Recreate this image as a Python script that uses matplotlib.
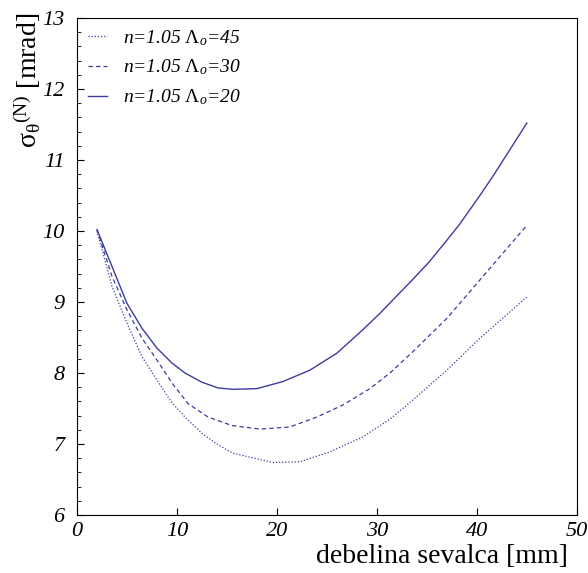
import numpy as np
import matplotlib
matplotlib.use("Agg")
import matplotlib.pyplot as plt
from matplotlib.ticker import MultipleLocator

plt.rcParams["font.family"] = "Liberation Serif"
plt.rcParams["mathtext.fontset"] = "custom"
plt.rcParams["mathtext.rm"] = "Liberation Serif"
plt.rcParams["mathtext.it"] = "Liberation Serif:italic"

# radiator thickness [mm] vs. sigma [mrad]
x_20 = [2.0, 3.5, 5.0, 6.5, 8.0, 9.5, 10.8, 12.5, 14.1, 15.6, 18.0, 20.6, 23.3, 26.0,
        28.6, 30.3, 33.6, 35.2, 37.0, 38.3, 40.3, 41.6, 45.0]
y_20 = [10.02, 9.50, 8.98, 8.63, 8.35, 8.14, 8.00, 7.87, 7.79, 7.77, 7.78, 7.88, 8.04, 8.28,
        8.61, 8.84, 9.32, 9.56, 9.87, 10.10, 10.50, 10.77, 11.52]

x_30 = [2.0, 3.5, 5.0, 6.5, 8.0, 9.5, 11.1, 13.1, 15.5, 18.3, 21.3, 24.0, 26.6, 29.3,
        31.3, 33.6, 37.0, 40.3, 45.0]
y_30 = [10.02, 9.36, 8.89, 8.49, 8.18, 7.86, 7.57, 7.38, 7.26, 7.21, 7.24, 7.38, 7.55, 7.78,
        8.00, 8.30, 8.77, 9.31, 10.08]

x_45 = [2.0, 3.5, 5.0, 6.5, 8.0, 9.5, 10.8, 12.5, 14.1, 15.6, 19.6, 22.3, 25.3, 28.6,
        31.3, 33.6, 37.0, 40.3, 45.0]
y_45 = [10.00, 9.22, 8.70, 8.23, 7.90, 7.58, 7.38, 7.15, 6.99, 6.87, 6.74, 6.75, 6.89, 7.10,
        7.35, 7.62, 8.04, 8.49, 9.07]

labels = [r"n=1.05 $\Lambda_o$=45", r"n=1.05 $\Lambda_o$=30", r"n=1.05 $\Lambda_o$=20"]
color = "#3c3ca0"

fig = plt.figure(figsize=(5.88, 5.73), dpi=100)
ax = fig.add_axes([0.131, 0.1012, 0.850, 0.8674])

ax.plot(x_45, y_45, color=color, lw=0.9, ls=(0, (1, 1.5)), label=labels[0])
ax.plot(x_30, y_30, color=color, lw=0.9, ls=(0, (3.5, 2.5)), label=labels[1])
ax.plot(x_20, y_20, color=color, lw=1.0, ls="-", label=labels[2])

ax.set_xlim(0, 50)
ax.set_ylim(6, 13)
ax.xaxis.set_major_locator(MultipleLocator(10))
ax.yaxis.set_major_locator(MultipleLocator(1))
ax.yaxis.set_minor_locator(MultipleLocator(0.2))
ax.tick_params(which="both", direction="in", top=False, right=False)
ax.tick_params(which="major", length=5, labelsize=16)
ax.tick_params(axis="y", which="major", pad=9)
ax.tick_params(axis="x", which="major", pad=5)
ax.tick_params(which="minor", length=3)
for t in ax.get_xticklabels() + ax.get_yticklabels():
    t.set_fontstyle("italic")

ax.set_xlabel("debelina sevalca [mm]", fontsize=20, loc="right")
ax.xaxis.set_label_coords(0.982, -0.058)
ax.set_ylabel(r"$\mathrm{\sigma}_{\mathrm{\theta}}{}^{\mathrm{(N)}}$ [mrad]", fontsize=20, loc="top")
ax.yaxis.set_label_coords(-0.068, 1.01)

leg = ax.legend(loc="upper left", bbox_to_anchor=(0.022, 0.98), frameon=False,
                handlelength=1.0, handletextpad=0.8, fontsize=14, labelspacing=0.52,
                borderaxespad=0, borderpad=0)
for t in leg.get_texts():
    t.set_fontstyle("italic")

fig.savefig("out.png", dpi=100)
